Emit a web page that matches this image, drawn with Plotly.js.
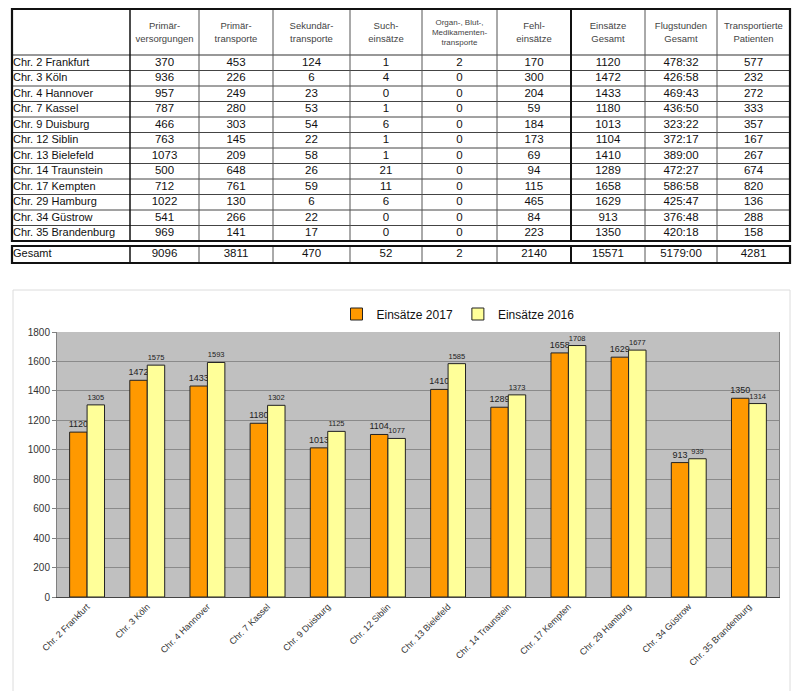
<!DOCTYPE html>
<html><head><meta charset="utf-8">
<script src="https://cdn.plot.ly/plotly-3.0.1.min.js"></script>
<style>html,body{margin:0;padding:0;background:#fff}#chart{width:800px;height:691px}</style>
</head><body><div id="chart"></div>
<script>
// ---------- DATA ----------
const stations = ["Chr. 2 Frankfurt","Chr. 3 Köln","Chr. 4 Hannover","Chr. 7 Kassel","Chr. 9 Duisburg","Chr. 12 Siblin","Chr. 13 Bielefeld","Chr. 14 Traunstein","Chr. 17 Kempten","Chr. 29 Hamburg","Chr. 34 Güstrow","Chr. 35 Brandenburg"];
const columnHeaders = ["Primär-<br>versorgungen","Primär-<br>transporte","Sekundär-<br>transporte","Such-<br>einsätze","Organ-, Blut-,<br>Medikamenten-<br>transporte","Fehl-<br>einsätze","Einsätze<br>Gesamt","Flugstunden<br>Gesamt","Transportierte<br>Patienten"];
const primaerversorgungen = [370,936,957,787,466,763,1073,500,712,1022,541,969];
const primaertransporte = [453,226,249,280,303,145,209,648,761,130,266,141];
const sekundaertransporte = [124,6,23,53,54,22,58,26,59,6,22,17];
const sucheinsaetze = [1,4,0,1,6,1,1,21,11,6,0,0];
const organtransporte = [2,0,0,0,0,0,0,0,0,0,0,0];
const fehleinsaetze = [170,300,204,59,184,173,69,94,115,465,84,223];
const einsaetze2017 = [1120,1472,1433,1180,1013,1104,1410,1289,1658,1629,913,1350];
const flugstunden = ["478:32","426:58","469:43","436:50","323:22","372:17","389:00","472:27","586:58","425:47","376:48","420:18"];
const patienten = [577,232,272,333,357,167,267,674,820,136,288,158];
const einsaetze2016 = [1305,1575,1593,1302,1125,1077,1585,1373,1708,1677,939,1314];
const gesamtLabel = "Gesamt";
const gesamtWerte = [9096,3811,470,52,2,2140,15571,"5179:00",4281];
const legendNames = ["Einsätze 2017","Einsätze 2016"];

// ---------- LAYOUT CONSTANTS (pixels) ----------
const W = 800, H = 691;
const colEdges = [12,130,199,273,350,422,497,571,645,717,790];
const headTop = 9, headBot = 55, rowH = 15.5;
const totTop = 246, totBot = 263;
const FONT = "Liberation Sans, Arial, sans-serif";
const tableCols = [primaerversorgungen,primaertransporte,sekundaertransporte,sucheinsaetze,organtransporte,fehleinsaetze,einsaetze2017,flugstunden,patienten];

const nRows = stations.length;
const tableBot = headBot + nRows*rowH;
const colCenter = i => (colEdges[i] + colEdges[i+1]) / 2;
const rowCenter = r => headBot + rowH*(r+0.5);

// table cell texts
const cx = [], cy = [], ct = [];
tableCols.forEach((col, c) => {
  col.forEach((v, r) => { cx.push(colCenter(c+1)); cy.push(rowCenter(r)); ct.push(String(v)); });
  cx.push(colCenter(c+1)); cy.push((totTop+totBot)/2); ct.push(String(gesamtWerte[c]));
});
const lx = [], ly = [], lt = [];
stations.forEach((s, r) => { lx.push(colEdges[0]+1); ly.push(rowCenter(r)); lt.push(s); });
lx.push(colEdges[0]+1); ly.push((totTop+totBot)/2); lt.push(gesamtLabel);

const hx = [], hy = [], ht = [], hs = [];
columnHeaders.forEach((h, c) => { hx.push(colCenter(c+1)); hy.push((headTop+headBot)/2 + 1); ht.push(h); hs.push(c === 4 ? 8 : 9.5); });

const traces = [
  {type:'bar', name:legendNames[0], x:stations, y:einsaetze2017, xaxis:'x', yaxis:'y',
   marker:{color:'#FF9900', line:{color:'#222', width:1}},
   text:einsaetze2017.map(String), textposition:'outside', constraintext:'none', cliponaxis:false,
   textfont:{family:FONT, size:9, color:'#222'}, hoverinfo:'x+y'},
  {type:'bar', name:legendNames[1], x:stations, y:einsaetze2016, xaxis:'x', yaxis:'y',
   marker:{color:'#FFFF99', line:{color:'#222', width:1}},
   text:einsaetze2016.map(String), textposition:'outside', constraintext:'none', cliponaxis:false,
   textfont:{family:FONT, size:7.5, color:'#222'}, hoverinfo:'x+y'},
  {type:'scatter', mode:'text', x:cx, y:cy, text:ct, xaxis:'x2', yaxis:'y2', showlegend:false,
   textposition:'middle center', textfont:{family:FONT, size:11.5, color:'#111'}, hoverinfo:'skip', cliponaxis:false},
  {type:'scatter', mode:'text', x:lx, y:ly, text:lt, xaxis:'x2', yaxis:'y2', showlegend:false,
   textposition:'middle right', textfont:{family:FONT, size:11, color:'#111'}, hoverinfo:'skip', cliponaxis:false},
  {type:'scatter', mode:'text', x:hx, y:hy, text:ht, xaxis:'x2', yaxis:'y2', showlegend:false,
   textposition:'middle center', textfont:{family:FONT, size:hs, color:'#444'}, hoverinfo:'skip', cliponaxis:false}
];

// table lines
const shapes = [];
const L = (x0,y0,x1,y1,w,c) => shapes.push({type:'line', xref:'x2', yref:'y2', x0, y0, x1, y1, line:{color:c, width:w}, layer:'above'});
// grey chart background
shapes.push({type:'rect', xref:'x domain', yref:'y domain', x0:0, x1:1, y0:0, y1:1, fillcolor:'#C0C0C0', line:{width:0}, layer:'below'});
// chart frame
shapes.push({type:'rect', xref:'x2', yref:'y2', x0:13, x1:790, y0:290, y1:700, line:{color:'#dcdcdc', width:1}, layer:'below'});
// horizontal lines
L(colEdges[0], headBot, colEdges[10], headBot, 1.2, '#333');
for (let r = 1; r < nRows; r++) L(colEdges[0], headBot + r*rowH, colEdges[10], headBot + r*rowH, 1, '#444');
// vertical lines main
for (let c = 1; c < colEdges.length-1; c++) {
  const w = c === 7 ? 2 : (c === 1 ? 1.5 : 1);
  const col = (c === 7 || c === 1) ? '#111' : '#555';
  L(colEdges[c], headTop, colEdges[c], tableBot, w, col);
  L(colEdges[c], totTop, colEdges[c], totBot, w, col);
}
// outer borders
shapes.push({type:'rect', xref:'x2', yref:'y2', x0:colEdges[0], x1:colEdges[10], y0:headTop, y1:tableBot, line:{color:'#111', width:2.2}});
shapes.push({type:'rect', xref:'x2', yref:'y2', x0:colEdges[0], x1:colEdges[10], y0:totTop, y1:totBot, line:{color:'#111', width:2.2}});

const layout = {
  width: W, height: H,
  margin: {l:0, r:0, t:0, b:0},
  paper_bgcolor: '#fff', plot_bgcolor: 'rgba(0,0,0,0)',
  font: {family: FONT, color: '#222'},
  barmode: 'group', bargap: 0.42, bargroupgap: 0,
  showlegend: true,
  legend: {orientation:'h', x:458/W, xanchor:'center', y:1-314/H, yanchor:'middle',
           font:{family:FONT, size:12, color:'#111'}, bgcolor:'rgba(0,0,0,0)', itemwidth:30, traceorder:'normal'},
  xaxis: {domain:[57/W, 779/W], anchor:'y', type:'category', tickangle:-45,
          tickfont:{family:FONT, size:9, color:'#333'}, showline:true, linecolor:'#444', linewidth:1,
          mirror:false, ticks:'', showgrid:false, automargin:false},
  yaxis: {domain:[1-597/H, 1-332/H], anchor:'x', range:[0,1800], dtick:200,
          tickfont:{family:FONT, size:10, color:'#333'}, showline:true, linecolor:'#808080', mirror:true,
          ticks:'outside', ticklen:4, tickcolor:'#808080', gridcolor:'#8a8a8a', gridwidth:1,
          zeroline:false, automargin:false},
  xaxis2: {domain:[0,1], anchor:'y2', range:[0,W], visible:false, fixedrange:true},
  yaxis2: {domain:[0,1], anchor:'x2', range:[H,0], visible:false, fixedrange:true},
  shapes: shapes
};

Plotly.newPlot('chart', traces, layout, {displayModeBar:false, staticPlot:true});
</script></body></html>
